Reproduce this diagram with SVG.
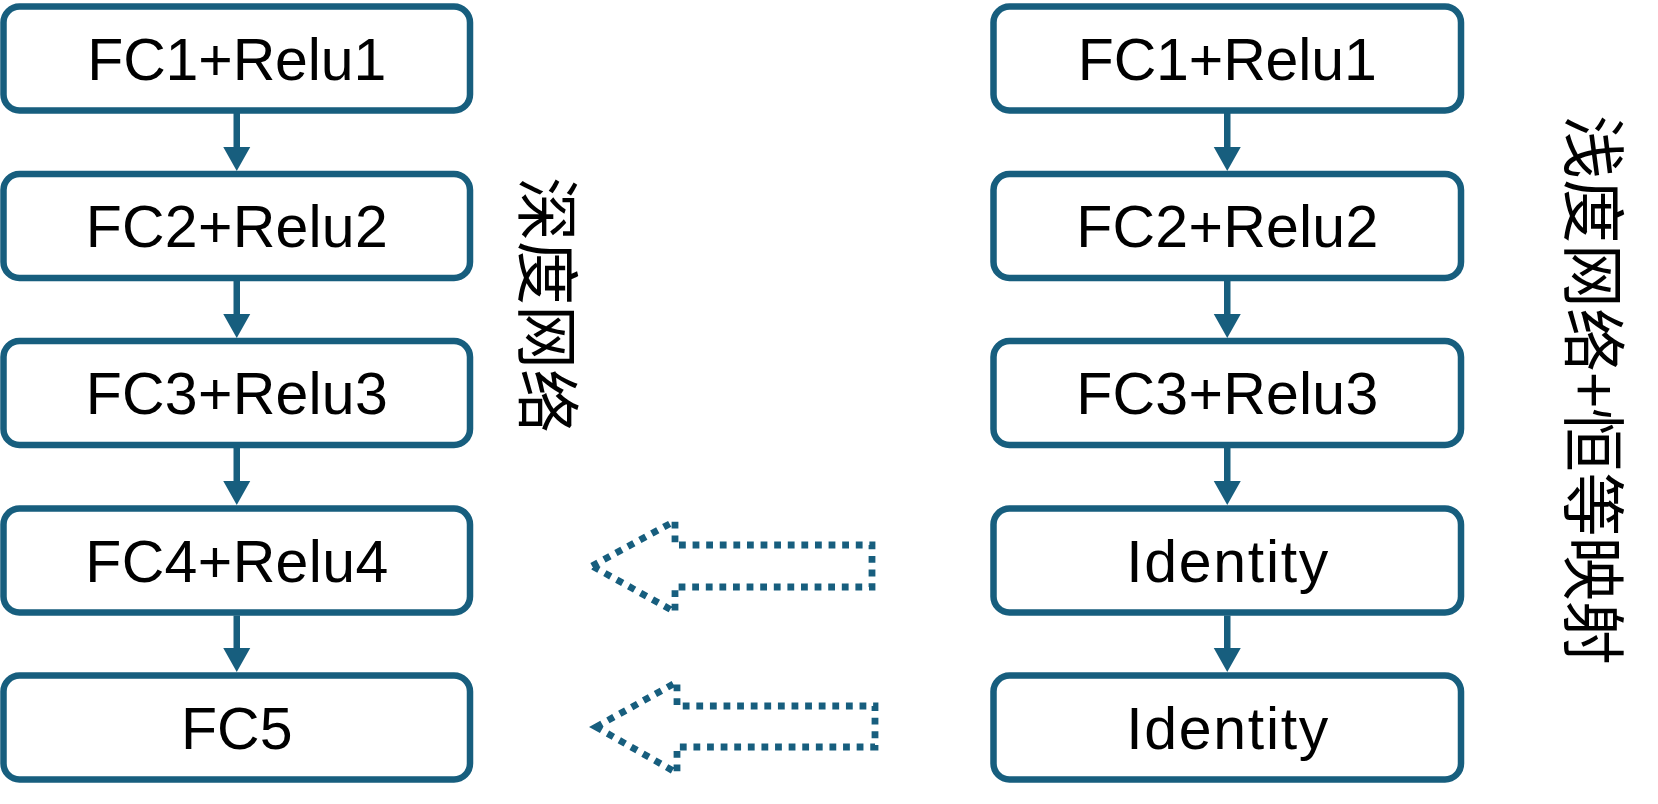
<svg xmlns="http://www.w3.org/2000/svg" width="1658" height="804" viewBox="0 0 1658 804">
<style>
.box{fill:#fff;stroke:#175E7E;stroke-width:6.5}
.lbl{font-family:"Liberation Sans",Arial,sans-serif;font-size:59px;fill:#000;text-anchor:middle}
.cjk{font-family:"Noto Sans CJK SC","Noto Sans",sans-serif;font-size:64px;fill:#000;text-anchor:middle;dominant-baseline:central}
.ln{stroke:#175E7E;stroke-width:6.5;fill:none}
.hd{fill:#175E7E}
.dot{fill:none;stroke:#175E7E;stroke-width:6.8;stroke-dasharray:6.8 6.8}
</style>
<rect width="1658" height="804" fill="#fff"/>
<g id="L1"><rect class="box" x="3.5" y="6.5" width="466.5" height="104" rx="16"/><text class="lbl" x="236.75" y="79.5" textLength="299">FC1+Relu1</text></g>
<g id="L2"><rect class="box" x="3.5" y="174" width="466.5" height="104" rx="16"/><text class="lbl" x="236.75" y="247" textLength="302">FC2+Relu2</text></g>
<g id="L3"><rect class="box" x="3.5" y="341" width="466.5" height="104" rx="16"/><text class="lbl" x="236.75" y="414" textLength="302">FC3+Relu3</text></g>
<g id="L4"><rect class="box" x="3.5" y="508.5" width="466.5" height="104" rx="16"/><text class="lbl" x="236.75" y="581.5" textLength="303">FC4+Relu4</text></g>
<g id="L5"><rect class="box" x="3.5" y="675.5" width="466.5" height="104" rx="16"/><text class="lbl" x="236.75" y="748.5">FC5</text></g>
<g id="R1"><rect class="box" x="993.5" y="6.5" width="467.5" height="104" rx="16"/><text class="lbl" x="1227.25" y="79.5" textLength="299">FC1+Relu1</text></g>
<g id="R2"><rect class="box" x="993.5" y="174" width="467.5" height="104" rx="16"/><text class="lbl" x="1227.25" y="247" textLength="302">FC2+Relu2</text></g>
<g id="R3"><rect class="box" x="993.5" y="341" width="467.5" height="104" rx="16"/><text class="lbl" x="1227.25" y="414" textLength="302">FC3+Relu3</text></g>
<g id="R4"><rect class="box" x="993.5" y="508.5" width="467.5" height="104" rx="16"/><text class="lbl" x="1227.25" y="581.5" textLength="202">Identity</text></g>
<g id="R5"><rect class="box" x="993.5" y="675.5" width="467.5" height="104" rx="16"/><text class="lbl" x="1227.25" y="748.5" textLength="202">Identity</text></g>
<g id="deep-label"><text class="cjk" transform="translate(552,305) rotate(90)">深度网络</text></g>
<g id="shallow-label"><text class="cjk" textLength="550" transform="translate(1598,390) rotate(90)">浅度网络+恒等映射</text></g>
<g id="connectors">
<line class="ln" x1="236.75" y1="113" x2="236.75" y2="148"/><polygon class="hd" points="223.25,147 250.25,147 236.75,171"/>
<line class="ln" x1="236.75" y1="281" x2="236.75" y2="315"/><polygon class="hd" points="223.25,314 250.25,314 236.75,338"/>
<line class="ln" x1="236.75" y1="448" x2="236.75" y2="482"/><polygon class="hd" points="223.25,481 250.25,481 236.75,505"/>
<line class="ln" x1="236.75" y1="615.5" x2="236.75" y2="649"/><polygon class="hd" points="223.25,648 250.25,648 236.75,672"/>
<line class="ln" x1="1227.25" y1="113" x2="1227.25" y2="148"/><polygon class="hd" points="1213.75,147 1240.75,147 1227.25,171"/>
<line class="ln" x1="1227.25" y1="281" x2="1227.25" y2="315"/><polygon class="hd" points="1213.75,314 1240.75,314 1227.25,338"/>
<line class="ln" x1="1227.25" y1="448" x2="1227.25" y2="482"/><polygon class="hd" points="1213.75,481 1240.75,481 1227.25,505"/>
<line class="ln" x1="1227.25" y1="615.5" x2="1227.25" y2="649"/><polygon class="hd" points="1213.75,648 1240.75,648 1227.25,672"/>
<polygon class="dot" points="592,566 675,521 675,545 872,545 872,587 675,587 675,612"/>
<polygon class="dot" points="596,727 677,682 677,706 875,706 875,747 677,747 677,773"/>
</g>
</svg>
